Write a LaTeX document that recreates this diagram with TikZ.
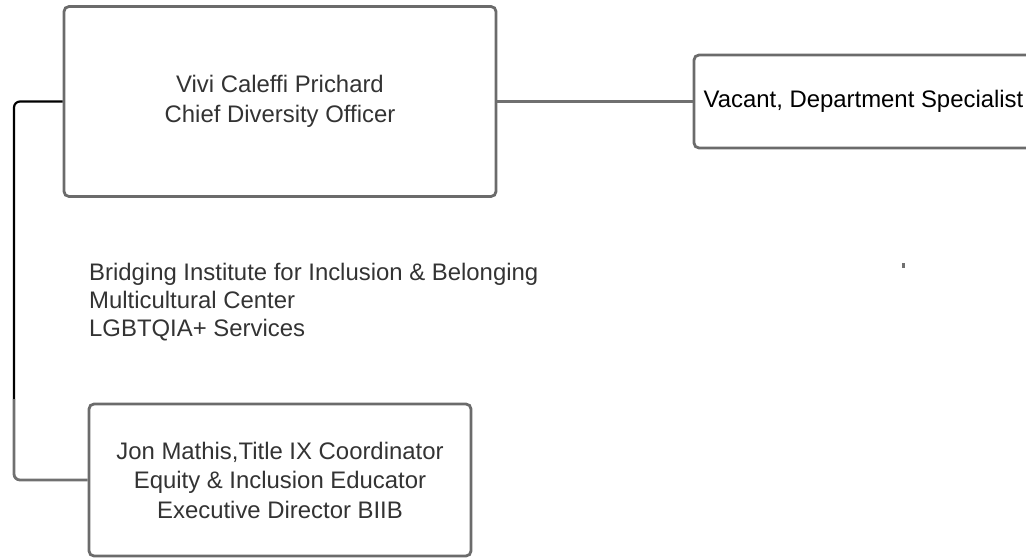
\documentclass[tikz,border=0pt]{standalone}
\usepackage{fontspec}
\setmainfont{Liberation Sans}
\definecolor{boxgrey}{HTML}{6B6B6B}
\definecolor{linegrey}{HTML}{707070}
\definecolor{textgrey}{HTML}{333333}
\tikzset{
  orgbox/.style={draw=boxgrey, line width=2.8pt, rounded corners=5pt, align=center,
    text=textgrey, inner sep=0pt, font=\fontsize{23.9}{29.5}\selectfont},
  orgline/.style={draw=linegrey, line width=2.2pt},
  unitlist/.style={align=left, text=textgrey, inner sep=0pt, font=\fontsize{23.9}{28}\selectfont}
}
\begin{document}
\begin{tikzpicture}[x=1pt,y=-1pt]
\useasboundingbox (0,0) rectangle (1026,559);
% boxes
\node[orgbox, minimum width=432pt, minimum height=190pt] (cdo) at (280,101.5)
  {Vivi Caleffi Prichard\\Chief Diversity Officer};
\node[orgbox, minimum width=339pt, minimum height=93pt, text=black] (spec) at (863.5,101.5)
  {Vacant, Department Specialist};
\node[orgbox, minimum width=382pt, minimum height=152pt] (tix) at (280,480)
  {Jon Mathis,Title IX Coordinator\\Equity \& Inclusion Educator\\Executive Director BIIB};
\node[unitlist, anchor=west] (units) at (89,302)
  {Bridging Institute for Inclusion \& Belonging\\Multicultural Center\\LGBTQIA+ Services};
% connectors
\coordinate (split) at (14,399);
\draw[orgline] (cdo.east)--(spec.west);
\draw[line width=2.2pt, black, rounded corners=6pt] (cdo.west) -| (split);
\draw[orgline, line width=2.8pt, rounded corners=6pt] (split) |- (tix.west);
\fill[linegrey] (902,263) rectangle (904.5,268);
\end{tikzpicture}
\end{document}
